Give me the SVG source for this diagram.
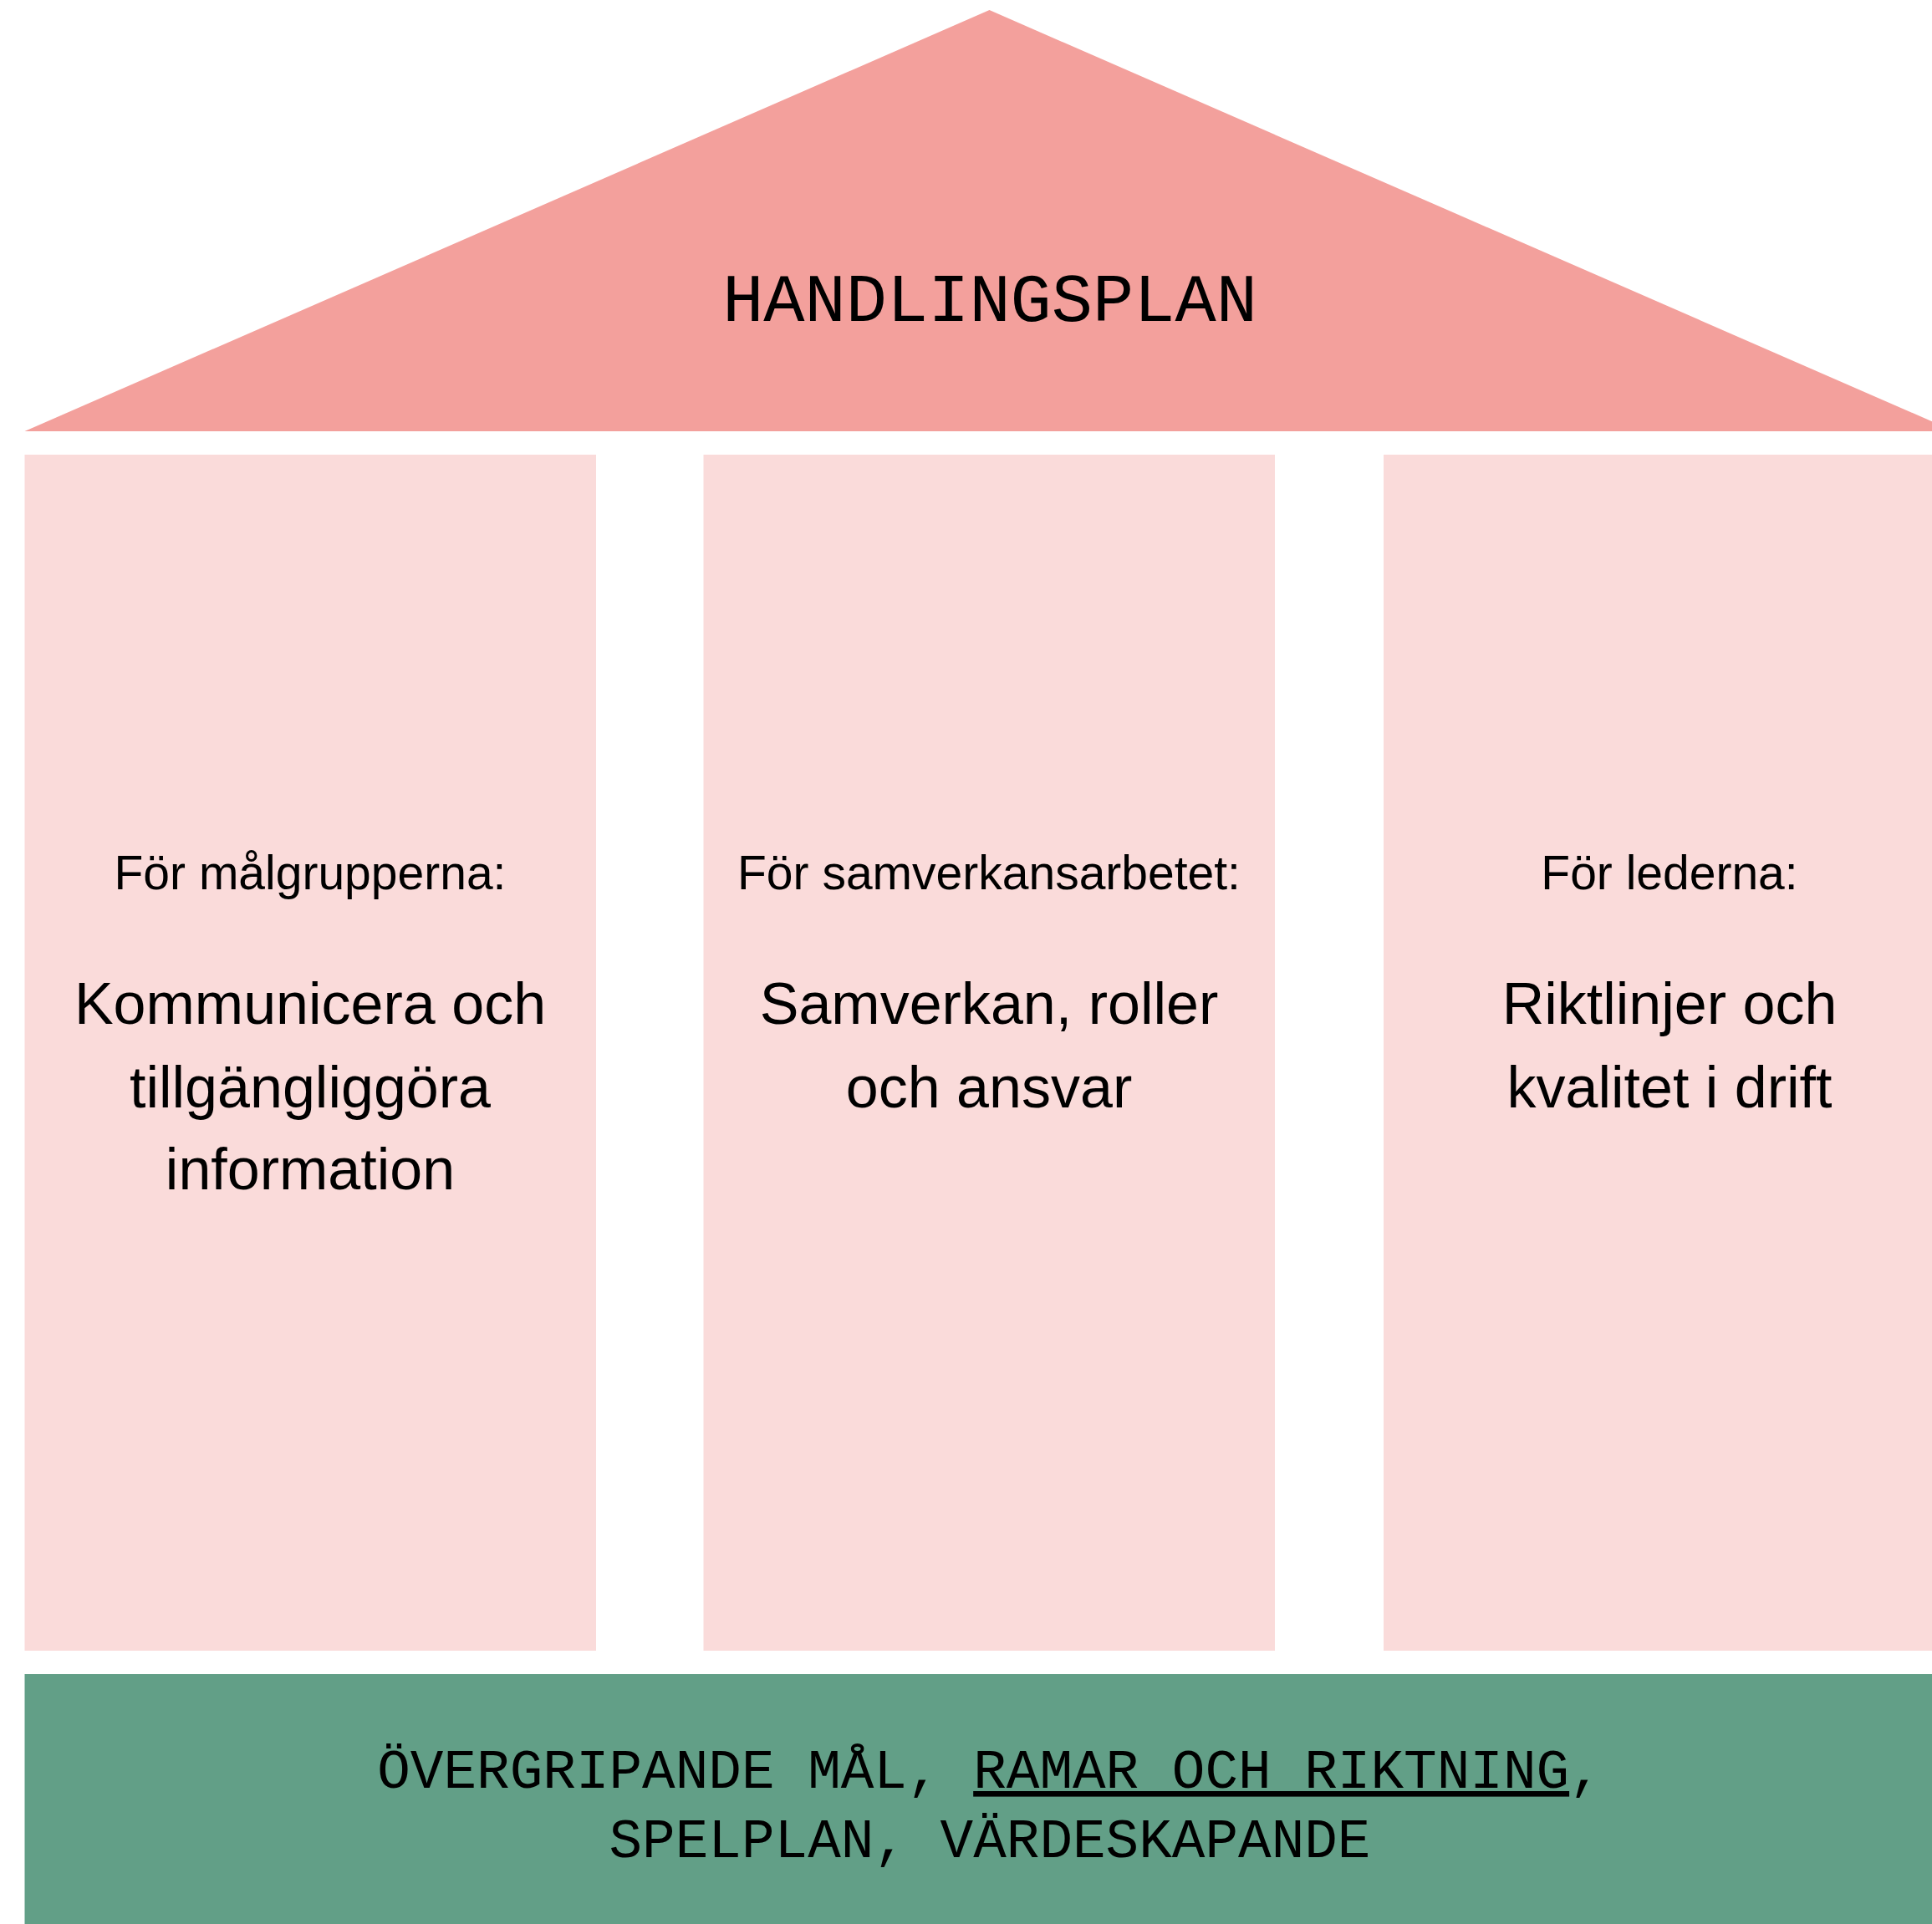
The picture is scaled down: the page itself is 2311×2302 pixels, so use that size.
<svg xmlns="http://www.w3.org/2000/svg" width="2311" height="2302" viewBox="0 0 2311 2302">
<style>
.mono{font-family:"Liberation Mono","DejaVu Sans Mono",monospace;fill:#000;text-anchor:middle}
.sans{font-family:"Liberation Sans",Arial,sans-serif;fill:#000;text-anchor:middle}
.small{font-size:57px}
.big{font-size:70px}
.col{fill:#FADBDA}
</style>
<rect x="0" y="0" width="2311" height="2302" fill="#FFFFFF"/>
<g id="roof">
<polygon points="1183.5,12 2338,516 29.5,516" fill="#F3A09C"/>
<text class="mono" x="1184" y="384" font-size="82">HANDLINGSPLAN</text>
</g>
<g id="col1">
<rect class="col" x="29.5" y="544" width="683.5" height="1431"/>
<text class="sans small" x="371" y="1064">För målgrupperna:</text>
<text class="sans big" x="371" y="1225">Kommunicera och</text>
<text class="sans big" x="371" y="1325">tillgängliggöra</text>
<text class="sans big" x="371" y="1423">information</text>
</g>
<g id="col2">
<rect class="col" x="841.5" y="544" width="683.5" height="1431"/>
<text class="sans small" x="1183" y="1064">För samverkansarbetet:</text>
<text class="sans big" x="1183" y="1225">Samverkan, roller</text>
<text class="sans big" x="1183" y="1325">och ansvar</text>
</g>
<g id="col3">
<rect class="col" x="1655" y="544" width="683.5" height="1431"/>
<text class="sans small" x="1997" y="1064">För lederna:</text>
<text class="sans big" x="1997" y="1225">Riktlinjer och</text>
<text class="sans big" x="1997" y="1325">kvalitet i drift</text>
</g>
<g id="foundation">
<rect x="29.5" y="2003" width="2310" height="320" fill="#629F87"/>
<text class="mono" x="1184" y="2139" font-size="66">ÖVERGRIPANDE MÅL, <tspan text-decoration="underline">RAMAR OCH RIKTNING</tspan>,</text>
<text class="mono" x="1184" y="2222" font-size="66">SPELPLAN, VÄRDESKAPANDE</text>
</g>
<g id="connectors"></g>
</svg>
